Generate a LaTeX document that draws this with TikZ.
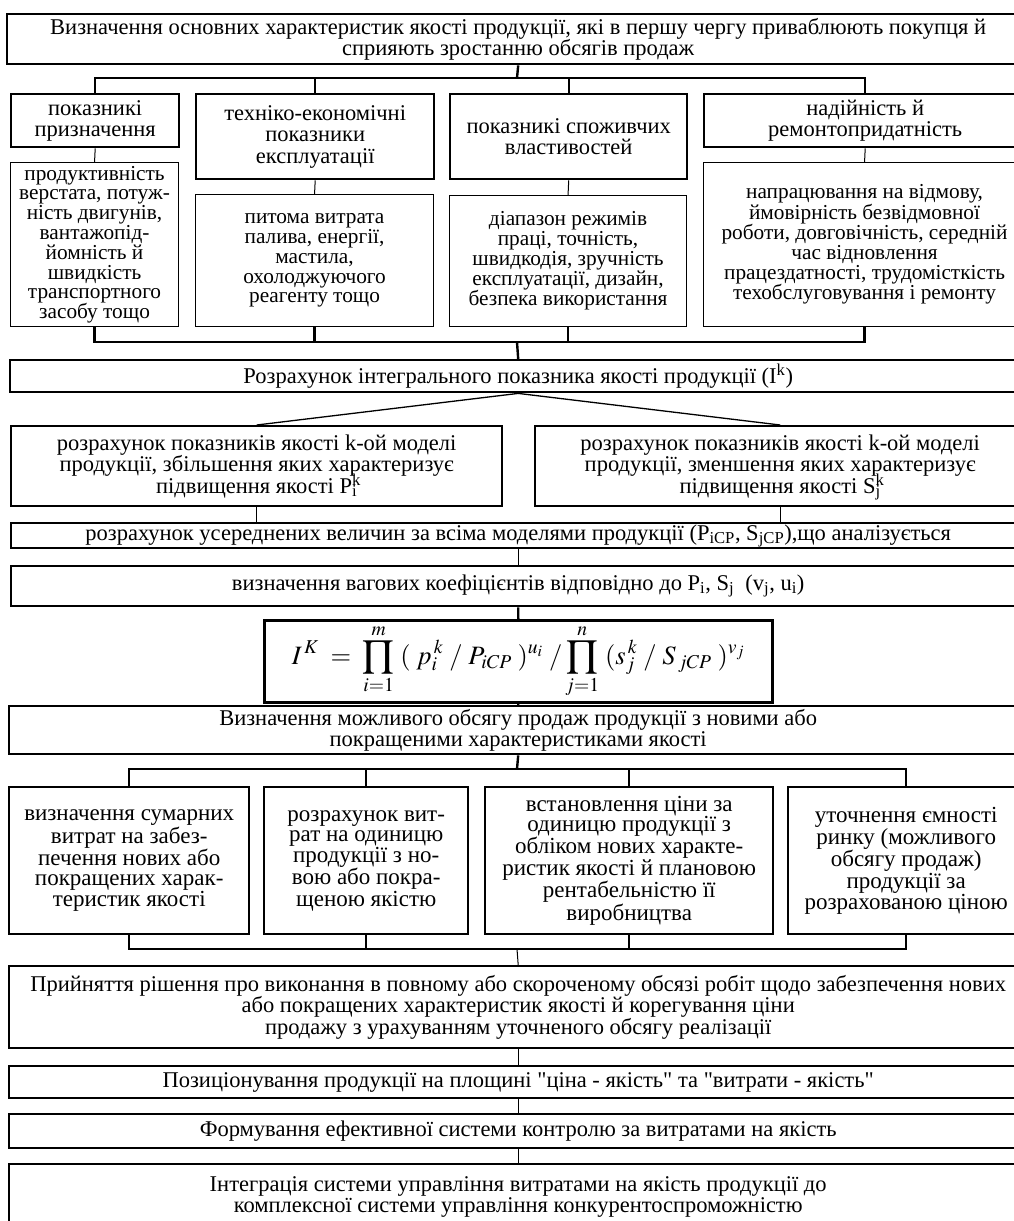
\documentclass[tikz,border=0pt]{standalone}
\usepackage{mathptmx}
\usepackage{fontspec}
\setmainfont{Liberation Serif}
\newcommand{\supsub}[2]{\rlap{\smash{\textsuperscript{#1}}}\smash{\textsubscript{#2}}}

\begin{document}
\begin{tikzpicture}[x=1pt, y=-1pt,
    box/.style={draw, line width=2.4pt, anchor=north west, inner sep=0pt, align=center,
      font=\fontsize{22.5}{21.5}\selectfont},
    subbox/.style={box, line width=1.1pt, font=\fontsize{21.3}{19.8}\selectfont},
    lowbox/.style={box, font=\fontsize{23}{20}\selectfont},
    link/.style={line width=2.4pt},
    thinlink/.style={line width=1pt}]
  \useasboundingbox (0,0) rectangle (1014,1221);

  \node[box, minimum width=1022pt, minimum height=50pt] (top) at (6,13)
    {Визначення основних характеристик якості продукції, які в першу чергу приваблюють покупця й\\
     сприяють зростанню обсягів продаж};

  % group of indicators
  \node[box, minimum width=168pt, minimum height=53pt] (h1) at (10,93) {показникі\\призначення};
  \node[box, minimum width=238pt, minimum height=85pt] (h2) at (195,93) {техніко-економічні\\показники\\експлуатації};
  \node[box, minimum width=237pt, minimum height=85pt] (h3) at (449,93) {показникі споживчих\\властивостей};
  \node[box, minimum width=322pt, minimum height=53pt] (h4) at (703,93) {надійність й\\ремонтопридатність};

  \node[subbox, minimum width=168pt, minimum height=164pt] (l1) at (10,162)
    {продуктивність\\верстата, потуж-\\ність двигунів,\\вантажопід-\\йомність й\\швидкість\\транспортного\\засобу тощо};
  \node[subbox, minimum width=238pt, minimum height=132pt] (l2) at (195,194)
    {питома витрата\\палива, енергії,\\мастила,\\охолоджуючого\\реагенту тощо};
  \node[subbox, minimum width=237pt, minimum height=131pt] (l3) at (449,195)
    {діапазон режимів\\праці, точність,\\швидкодія, зручність\\експлуатації, дизайн,\\безпека використання};
  \node[subbox, minimum width=322pt, minimum height=164pt] (l4) at (703,162)
    {напрацювання на відмову,\\ймовірність безвідмовної\\роботи, довговічність, середній\\час відновлення\\працездатності, трудомісткість\\техобслуговування і ремонту};

  \coordinate (bar1) at (517,78);
  \draw[link] (top.south) -- (bar1);
  \draw[link] (h1.north) |- (bar1) -| (h4.north);
  \foreach \n in {h2,h3} \draw[link] (\n.north) -- (\n.north |- bar1);
  \foreach \n in {1,...,4} \draw[thinlink] (h\n.south) -- (l\n.north);

  \coordinate (bar2) at (517,342);
  \draw[link] (l1.south) |- (bar2) -| (l4.south);
  \foreach \n in {l2,l3} \draw[link] (\n.south) -- (\n.south |- bar2);

  % integral index
  \node[box, minimum width=1016pt, minimum height=32pt] (calc) at (9,359)
    {Розрахунок інтегрального показника якості продукції (I\textsuperscript{k})};
  \draw[link] (bar2) -- (calc.north);

  \node[box, minimum width=491pt, minimum height=80pt] (pl) at (10,425)
    {розрахунок показників якості k-ой моделі\\продукції, збільшення яких характеризує\\підвищення якості P\supsub{k}{i}};
  \node[box, minimum width=490pt, minimum height=80pt] (pr) at (534,425)
    {розрахунок показників якості k-ой моделі\\продукції, зменшення яких характеризує\\підвищення якості S\supsub{k}{j}};
  \draw[line width=1.3pt] (calc.south) -- (pl.north);
  \draw[line width=1.3pt] (calc.south) -- (pr.north);

  \node[box, minimum width=1014pt, minimum height=25pt] (avg) at (10,522)
    {розрахунок усереднених величин за всіма моделями продукції (P\textsubscript{iCP}, S\textsubscript{jCP}),що аналізується};
  \foreach \n in {pl,pr} \draw[thinlink] (\n.south) -- (\n.south |- avg.north);

  \node[box, minimum width=1014pt, minimum height=40pt] (wgt) at (10,565)
    {визначення вагових коефіцієнтів відповідно до P\textsubscript{i}, S\textsubscript{j}\ \ (v\textsubscript{j}, u\textsubscript{i})};
  \draw[thinlink] (avg.south) -- (wgt.north);

  \node[box, line width=2.6pt, minimum width=508pt, minimum height=82pt, font=\fontsize{26.5}{28}\selectfont] (form) at (263,619)
    {$\displaystyle I^{\,K} \;=\; \prod_{i=1}^{m}\;(\;p_i^{\,k}\;/\;P_{iCP}\;)^{u_i}\;/\prod_{j=1}^{n}\;(s_j^{\,k}\;/\;S_{\,jCP}\;)^{v_j}$};
  \draw[link] (wgt.south) -- (form.north);

  % sales volume
  \node[box, minimum width=1018pt, minimum height=48pt] (vol) at (8,705)
    {Визначення можливого обсягу продаж продукції з новими або\\покращеними характеристиками якості};
  \draw[link] (form.south) -- (vol.north);

  \node[lowbox, minimum width=240pt, minimum height=147pt] (r1) at (8,786)
    {визначення сумарних\\витрат на забез-\\печення нових або\\покращених харак-\\теристик якості};
  \node[lowbox, minimum width=204pt, minimum height=147pt] (r2) at (263,786)
    {розрахунок вит-\\рат на одиницю\\продукції з но-\\вою або покра-\\щеною якістю};
  \node[lowbox, minimum width=288pt, minimum height=147pt] (r3) at (484,786)
    {встановлення ціни за\\одиницю продукції з\\обліком нових характе-\\ристик якості й плановою\\рентабельністю її\\виробництва};
  \node[lowbox, minimum width=236pt, minimum height=147pt] (r4) at (787,786)
    {уточнення ємності\\ринку (можливого\\обсягу продаж)\\продукції за\\розрахованою ціною};

  \coordinate (bar3) at (517,769);
  \draw[link] (vol.south) -- (bar3);
  \draw[link] (r1.north) |- (bar3) -| (r4.north);
  \foreach \n in {r2,r3} \draw[link] (\n.north) -- (\n.north |- bar3);

  \coordinate (bar4) at (517,949);
  \draw[link] (r1.south) |- (bar4) -| (r4.south);
  \foreach \n in {r2,r3} \draw[link] (\n.south) -- (\n.south |- bar4);

  % decisions
  \node[box, minimum width=1018pt, minimum height=82pt] (dec) at (8,965)
    {Прийняття рішення про виконання в повному або скороченому обсязі робіт щодо забезпечення нових\\
     або покращених характеристик якості й корегування ціни\\
     продажу з урахуванням уточненого обсягу реалізації};
  \node[box, minimum width=1018pt, minimum height=32pt] (pos) at (8,1065)
    {Позиціонування продукції на площині \textquotedbl ціна - якість\textquotedbl{} та \textquotedbl витрати - якість\textquotedbl};
  \node[box, minimum width=1018pt, minimum height=34pt] (ctrl) at (8,1113)
    {Формування ефективної системи контролю за витратами на якість};
  \node[box, minimum width=1018pt, minimum height=66pt] (integ) at (8,1163)
    {Інтеграція системи управління витратами на якість продукції до\\
     комплексної системи управління конкурентоспроможністю};
  \draw[thinlink] (bar4) -- (dec.north);
  \draw[thinlink] (dec.south) -- (pos.north);
  \draw[thinlink] (pos.south) -- (ctrl.north);
  \draw[thinlink] (ctrl.south) -- (integ.north);
\end{tikzpicture}
\end{document}
